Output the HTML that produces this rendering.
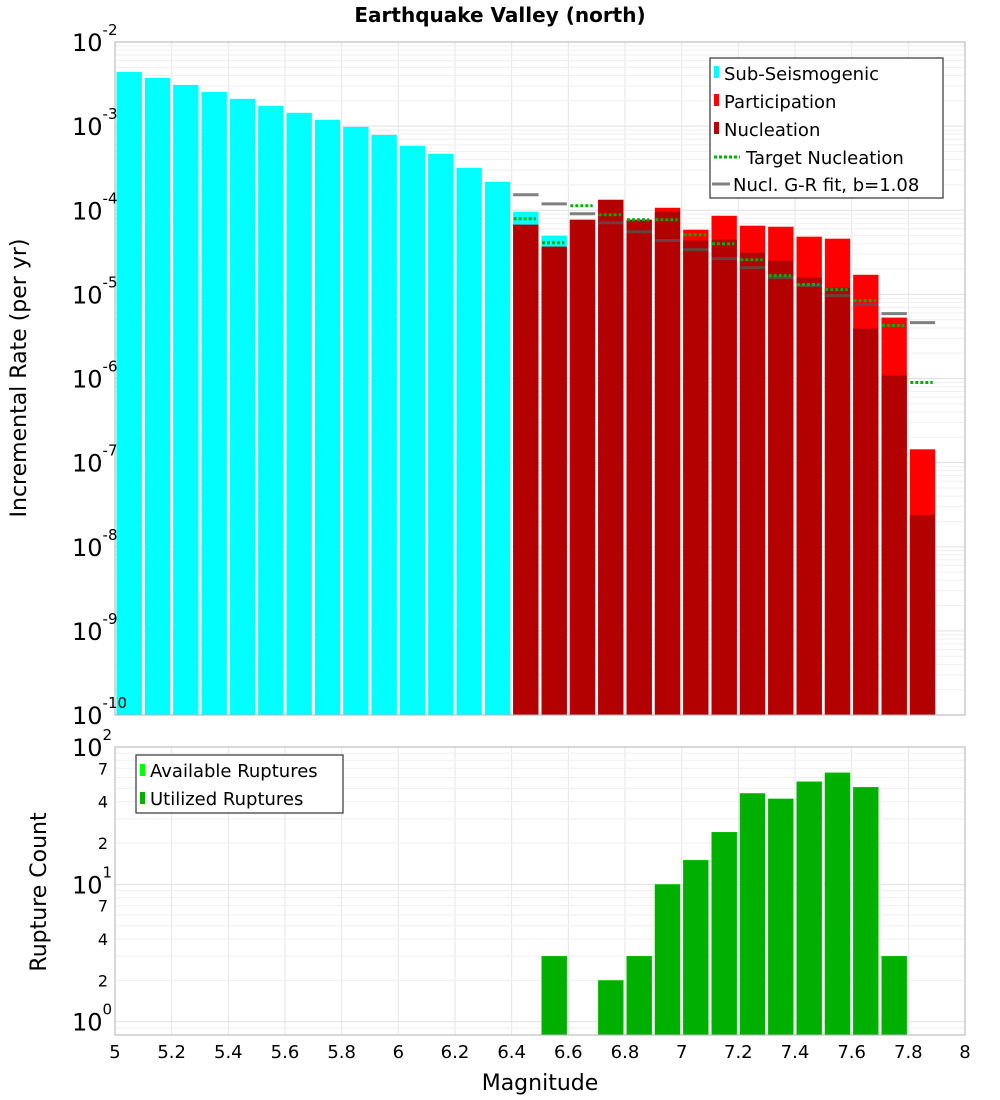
<!DOCTYPE html>
<html><head><meta charset="utf-8"><style>
html,body{margin:0;padding:0;background:#fff;width:1000px;height:1100px;overflow:hidden;}
svg{display:block;font-family:"DejaVu Sans","Liberation Sans",sans-serif;}
</style></head><body>
<svg id="chart" width="1000" height="1100" viewBox="0 0 1000 1100" xmlns="http://www.w3.org/2000/svg">
<text x="500" y="22" text-anchor="middle" font-size="20" font-weight="bold">Earthquake Valley (north)</text>
<g id="top-grid"></g>
<g id="bot-grid"></g>
<g id="top-marks"></g>
<g id="bot-marks"></g>
<rect x="115" y="42" width="850" height="673" fill="none" stroke="#b0b0b0" stroke-width="1"/>
<rect x="115" y="747" width="850" height="288" fill="none" stroke="#b0b0b0" stroke-width="1"/>
<g id="top-yticks"></g>
<g id="bot-yticks"></g>
<g id="xticks"></g>
<text transform="translate(26,378) rotate(-90)" text-anchor="middle" font-size="22">Incremental Rate (per yr)</text>
<text transform="translate(46,892) rotate(-90)" text-anchor="middle" font-size="22">Rupture Count</text>
<text x="540" y="1090" text-anchor="middle" font-size="22">Magnitude</text>
<g>
<rect x="710" y="58" width="233" height="140" fill="#fff" stroke="#333" stroke-width="1.2"/>
<g><rect x="714" y="66" width="5" height="12" fill="#00ffff"/><text x="724" y="80" font-size="18">Sub-Seismogenic</text></g>
<g><rect x="714" y="94" width="5" height="12" fill="#ff0000"/><text x="724" y="108" font-size="18">Participation</text></g>
<g><rect x="714" y="122" width="5" height="12" fill="#b30000"/><text x="724" y="136" font-size="18">Nucleation</text></g>
<g><line x1="714" y1="157" x2="740" y2="157" stroke="#00b000" stroke-width="3" stroke-dasharray="3,2"/><text x="746" y="164" font-size="18">Target Nucleation</text></g>
<g><line x1="712" y1="184" x2="730" y2="184" stroke="#808080" stroke-width="3"/><text x="733" y="191" font-size="18">Nucl. G-R fit, b=1.08</text></g>
</g>
<g>
<rect x="136" y="755" width="207" height="58" fill="#fff" stroke="#333" stroke-width="1.2"/>
<g><rect x="140" y="764" width="5" height="12" fill="#00ff00"/><text x="150" y="777" font-size="18">Available Ruptures</text></g>
<g><rect x="140" y="792" width="5" height="12" fill="#00b000"/><text x="150" y="805" font-size="18">Utilized Ruptures</text></g>
</g>
</svg>
<script>
// ---- data ----
const subSeisBins = [5.0,5.1,5.2,5.3,5.4,5.5,5.6,5.7,5.8,5.9,6.0,6.1,6.2,6.3,6.4,6.5];
const subSeisRates = [4.41e-3,3.74e-3,3.09e-3,2.55e-3,2.11e-3,1.74e-3,1.44e-3,1.19e-3,9.8e-4,7.87e-4,5.83e-4,4.69e-4,3.19e-4,2.18e-4,9.6e-5,4.98e-5];
const supraBins = [6.4,6.5,6.6,6.7,6.8,6.9,7.0,7.1,7.2,7.3,7.4,7.5,7.6,7.7,7.8];
const participationRates = [6.73e-5,3.69e-5,7.71e-5,1.33e-4,7.71e-5,1.07e-4,5.87e-5,8.6e-5,6.55e-5,6.37e-5,4.85e-5,4.59e-5,1.71e-5,5.3e-6,1.44e-7];
const nucleationRates = [6.73e-5,3.69e-5,7.71e-5,1.33e-4,7.71e-5,9.6e-5,4.35e-5,4.47e-5,3.13e-5,2.52e-5,1.58e-5,1.2e-5,3.92e-6,1.09e-6,2.37e-8];
const targetNucleation = [7.93e-5,4.11e-5,1.13e-4,8.85e-5,7.71e-5,7.71e-5,5.12e-5,4.0e-5,2.58e-5,1.67e-5,1.31e-5,1.14e-5,8.43e-6,4.26e-6,8.97e-7];
const grFit = [1.53e-4,1.19e-4,9.08e-5,7.11e-5,5.56e-5,4.35e-5,3.40e-5,2.66e-5,2.08e-5,1.58e-5,1.27e-5,9.67e-6,7.56e-6,5.91e-6,4.62e-6];
const countBins = [6.5,6.7,6.8,6.9,7.0,7.1,7.2,7.3,7.4,7.5,7.6,7.7];
const utilizedCounts = [3,2,3,10,15,24,46,42,56,65,51,3];
const availableCounts = [3,2,3,10,15,24,46,42,56,65,51,3];
const xTickLabels = ["5","5.2","5.4","5.6","5.8","6","6.2","6.4","6.6","6.8","7","7.2","7.4","7.6","7.8","8"];
const topDecades = [-2,-3,-4,-5,-6,-7,-8,-9,-10];
const botDecades = [2,1,0];

// ---- axes ----
const NS="http://www.w3.org/2000/svg";
const X0=115,X1=965,XMIN=5,XMAX=8;
const xs=m=>X0+(m-XMIN)/(XMAX-XMIN)*(X1-X0);
const TY0=42,TY1=715;
const ty=v=>TY0+(-2-Math.log10(v))/8*(TY1-TY0);
const BY0=747,BY1=1035,BMAX=Math.log10(100),BMIN=Math.log10(0.8);
const by=v=>BY0+(BMAX-Math.log10(v))/(BMAX-BMIN)*(BY1-BY0);
function mk(tag,attrs,parent){const e=document.createElementNS(NS,tag);for(const k in attrs)e.setAttribute(k,attrs[k]);parent.appendChild(e);return e;}
const g=id=>document.getElementById(id);

// grids
const tg=g('top-grid'),bg=g('bot-grid');
for(let m=5;m<=8.001;m+=0.2){
  let l=mk('line',{x1:xs(m),x2:xs(m),y1:TY0,y2:TY1,stroke:'#e6e6e6'},tg);
  
  
  let l2=mk('line',{x1:xs(m),x2:xs(m),y1:BY0,y2:BY1,stroke:'#e6e6e6'},bg);
  
  
}
for(let d=-10;d<-2;d++){for(let k=1;k<10;k++){const v=k*Math.pow(10,d);
  let l=mk('line',{x1:X0,x2:X1,y1:ty(v),y2:ty(v),stroke:k==1?'#e0e0e0':'#efefef'},tg);
  
  }}
for(let d=-1;d<2;d++){for(let k=1;k<10;k++){const v=k*Math.pow(10,d);if(v<0.8)continue;
  let l=mk('line',{x1:X0,x2:X1,y1:by(v),y2:by(v),stroke:k==1?'#e0e0e0':'#efefef'},bg);
  
  }}

// top marks
const tm=g('top-marks'),W=0.1;
function bar(m,v,fill,name){const x=xs(m)+1.5,w=xs(m+W)-xs(m)-3,y=ty(v);
  let r=mk('rect',{x:x,y:y,width:w,height:TY1-y,fill:fill},tm);
  
  }
subSeisBins.forEach((m,i)=>bar(m,subSeisRates[i],'#00ffff','sub-seismogenic-bar'));
supraBins.forEach((m,i)=>bar(m,participationRates[i],'#ff0000','participation-bar'));
supraBins.forEach((m,i)=>bar(m,nucleationRates[i],'#b30000','nucleation-bar'));
supraBins.forEach((m,i)=>{const y=ty(grFit[i]);
  let l=mk('line',{x1:xs(m)+1.5,x2:xs(m+W)-1.5,y1:y,y2:y,stroke:'#555',"stroke-opacity":0.75,"stroke-width":3},tm);
  
  });
supraBins.forEach((m,i)=>{const y=ty(targetNucleation[i]);
  let l=mk('line',{x1:xs(m)+2,x2:xs(m+W)-4,y1:y,y2:y,stroke:'#00b000',"stroke-width":3,"stroke-dasharray":"3,2"},tm);
  
  });

// bottom marks
const bm=g('bot-marks');
countBins.forEach((m,i)=>{const x=xs(m)+1.5,w=xs(m+W)-xs(m)-3;
  const ya=by(availableCounts[i]);
  let a=mk('rect',{x:x,y:ya,width:w,height:BY1-ya,fill:'#00ff00'},bm);
  
  
  const yu=by(utilizedCounts[i]);
  let r=mk('rect',{x:x,y:yu,width:w,height:BY1-yu,fill:'#00b000'},bm);
  
  });

// ticks
const tyt=g('top-yticks');
topDecades.forEach(d=>{const y=ty(Math.pow(10,d));
  let t=mk('text',{x:72,y:y+9,"font-size":24},tyt);
  
  
  t.textContent='10';
  let s=mk('tspan',{dy:-16,"font-size":15},t);s.textContent=String(d);
  
  });
const byt=g('bot-yticks');
botDecades.forEach(d=>{const y=by(Math.pow(10,d));
  let t=mk('text',{x:72,y:y+9,"font-size":24},byt);
  
  
  t.textContent='10';
  let s=mk('tspan',{dy:-16,"font-size":15},t);s.textContent=String(d);
  
  });
[[7,1],[4,1],[2,1],[7,0],[4,0],[2,0],[0.8,-1]].forEach(([k,d])=>{const v=k*Math.pow(10,d);const y=by(v);
  let t=mk('text',{x:108,y:y+6,"text-anchor":"end","font-size":d<0?22:16},byt);
  
  
  t.textContent=d<0?'8':String(k);});
const xt=g('xticks');
xTickLabels.forEach(s=>{const m=parseFloat(s);
  let t=mk('text',{x:xs(m),y:1058,"text-anchor":"middle","font-size":18},xt);
  
  
  t.textContent=s;});
</script>
</body></html>
